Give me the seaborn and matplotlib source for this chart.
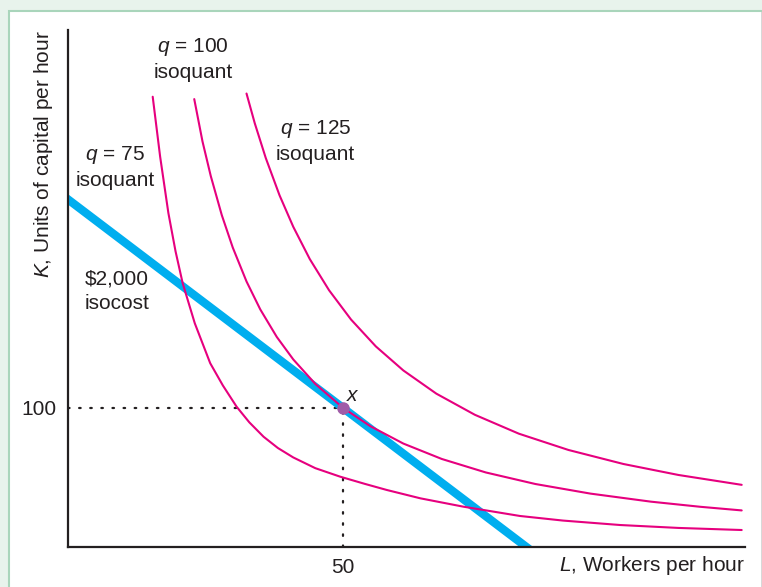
import seaborn as sns
import pandas as pd
import matplotlib.pyplot as plt
from matplotlib.patches import Rectangle

# DATA
# L = workers per hour, K = units of capital per hour
q75_L = [15.45, 16.8, 18.3, 19.6, 20.9, 23.1, 25.9, 28.2, 30.7, 33.0, 35.6, 38.2,
         41.0, 45.0, 49.5, 54.0, 58.0, 64.1, 71.9, 82.2, 90.0, 100.4, 111.0, 122.5]
q75_K = [323.7, 280.6, 240.0, 212.5, 189.5, 160.7, 132.0, 116.0, 100.7, 89.5, 79.1, 71.0,
         64.2, 56.5, 50.4, 45.2, 40.8, 34.8, 28.8, 22.1, 18.8, 15.6, 13.5, 12.0]

q100_L = [23.0, 24.5, 26.0, 28.0, 30.0, 32.5, 35.0, 38.0, 41.0, 45.0, 50.0,
          55.0, 61.0, 68.0, 76.0, 85.0, 95.0, 106.0, 115.0, 122.5]
q100_K = [322.0, 291.5, 266.7, 238.6, 215.2, 190.8, 170.7, 150.9, 134.7, 117.1, 100.0,
          86.7, 74.2, 63.1, 53.4, 45.1, 38.2, 32.4, 28.7, 26.1]

q125_L = [32.5, 34.0, 36.0, 38.5, 41.0, 44.0, 47.5, 51.5, 56.0, 61.0, 67.0,
          74.0, 82.0, 91.0, 101.0, 111.0, 122.5]
q125_K = [326.0, 304.6, 279.6, 252.8, 230.1, 206.9, 184.5, 163.4, 144.1, 126.8, 110.1,
          94.9, 81.3, 69.6, 59.5, 51.6, 44.5]

isocost_L = [0, 83.3]
isocost_K = [250, 0]

point_x = (50, 100)

x_ticks = [50]
y_ticks = [100]

isoquant_labels = ["$q$ = 75\nisoquant", "$q$ = 100\nisoquant", "$q$ = 125\nisoquant"]
isoquant_label_pos = [(8.6, 273), (22.8, 351), (45.0, 292)]

# THEME
sns.set_theme(style="white")
plt.rcParams["font.family"] = ["Liberation Sans", "DejaVu Sans"]
plt.rcParams["mathtext.fontset"] = "custom"
plt.rcParams["mathtext.it"] = "Liberation Sans:italic"
plt.rcParams["mathtext.rm"] = "Liberation Sans"

MAGENTA = "#e6007e"
CYAN = "#00aeef"
INK = "#231f20"

fig = plt.figure(figsize=(7.62, 5.87), dpi=100)
fig.patch.set_facecolor("#e8f3ec")
fig.patches.append(Rectangle((9 / 762, -0.01), 1.0, 1 - 11 / 587 + 0.01,
                             transform=fig.transFigure, facecolor="white",
                             edgecolor="#a9d5bb", linewidth=1.5, zorder=-5))
fig.patches.append(Rectangle((760.5 / 762, 0), 0.01, 1 - 12 / 587,
                             transform=fig.transFigure, facecolor="#d8d8d8",
                             edgecolor="none", zorder=-4))

ax = fig.add_axes([67.7 / 762, 40.3 / 587, 677.3 / 762, 516.7 / 587])
ax.set_facecolor("none")

# isoquants
curves = pd.concat([
    pd.DataFrame({"L": q75_L, "K": q75_K, "q": "75"}),
    pd.DataFrame({"L": q100_L, "K": q100_K, "q": "100"}),
    pd.DataFrame({"L": q125_L, "K": q125_K, "q": "125"}),
])
sns.lineplot(data=curves, x="L", y="K", hue="q", estimator=None, sort=True,
             palette=[MAGENTA] * 3, linewidth=1.5, legend=False, ax=ax, zorder=3)

# isocost
sns.lineplot(x=isocost_L, y=isocost_K, color=CYAN, linewidth=6,
             ax=ax, zorder=2, solid_capstyle="projecting")

# dotted guides to point x
ax.plot([0, point_x[0]], [point_x[1], point_x[1]], color=INK, linewidth=1.6,
        linestyle=(0, (0.7, 4.3)), dash_capstyle="round", zorder=1)
ax.plot([point_x[0], point_x[0]], [0, point_x[1]], color=INK, linewidth=1.6,
        linestyle=(0, (0.7, 4.3)), dash_capstyle="round", zorder=1)
ax.plot(*point_x, "o", color="#a05ca8", markersize=8, zorder=4)
ax.text(point_x[0] + 0.6, point_x[1] + 5, "$x$", fontsize=15, color=INK)

# labels
for lab, (lx, ly) in zip(isoquant_labels, isoquant_label_pos):
    ax.text(lx, ly, lab, fontsize=15, color=INK, ha="center", va="center",
            linespacing=1.35)
ax.text(3.1, 184, "\\$2,000\nisocost", fontsize=15, color=INK, ha="left",
        va="center", linespacing=1.35)

# axes
ax.set_xlim(0, 123.1)
ax.set_ylim(0, 371.7)
ax.set_xticks(x_ticks)
ax.set_yticks(y_ticks)
ax.tick_params(length=0, labelsize=15, colors=INK, pad=8)
ax.set_xlabel("")
ax.set_ylabel("")
sns.despine(ax=ax)
for s in ["left", "bottom"]:
    ax.spines[s].set_color(INK)
    ax.spines[s].set_linewidth(1.6)

ax.text(1.0, -0.037, "$L$, Workers per hour", transform=ax.transAxes,
        fontsize=15, color=INK, ha="right", va="center")
ax.text(-0.035, 1.0, "$K$, Units of capital per hour", transform=ax.transAxes,
        fontsize=15, color=INK, ha="center", va="top", rotation=90)

fig.savefig("out.png", dpi=100, facecolor=fig.get_facecolor())
